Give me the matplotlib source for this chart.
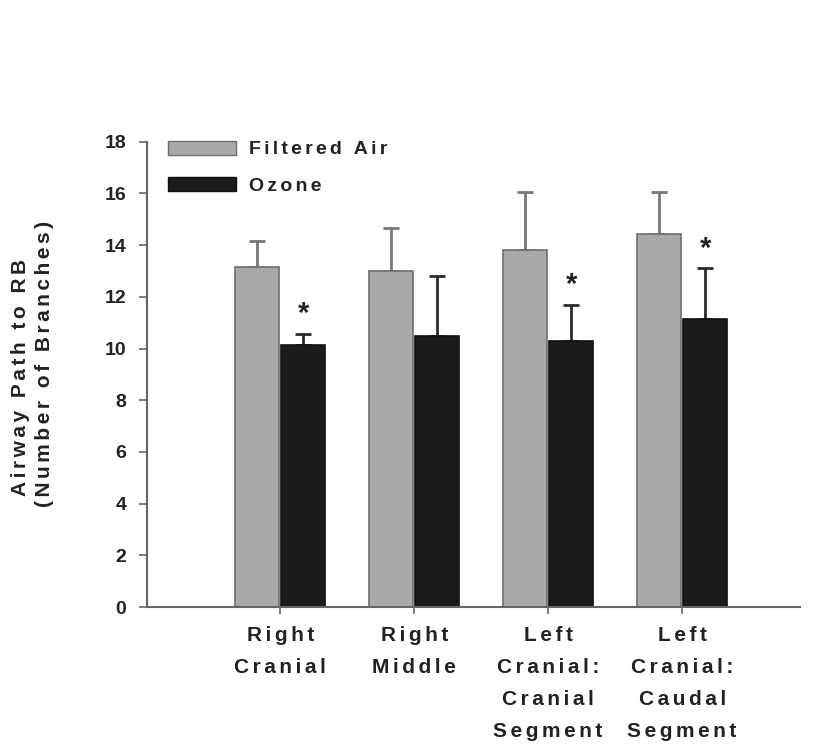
import matplotlib
matplotlib.use("Agg")
import matplotlib.pyplot as plt
import numpy as np
from matplotlib.patches import Patch

plt.rcParams['font.family'] = ['Liberation Sans', 'DejaVu Sans']

categories = ["Right\nCranial", "Right\nMiddle", "Left\nCranial:\nCranial\nSegment",
              "Left\nCranial:\nCaudal\nSegment"]
filtered_air = [13.15, 12.98, 13.8, 14.42]
filtered_air_err = [1.0, 1.68, 2.26, 1.62]
ozone = [10.15, 10.48, 10.28, 11.13]
ozone_err = [0.42, 2.33, 1.41, 1.97]
significant = [True, False, True, True]
y_title_lines = ["Airway Path to RB", "(Number of Branches)"]
series_names = ["Filtered Air", "Ozone"]

HS = "\u200a"  # hair space used to widen letter spacing


def tracked(s, n=2):
    gap = HS * n
    return "\n".join(gap.join(line) for line in s.split("\n"))


fig = plt.figure(figsize=(8.17, 7.45), dpi=100)
ax = fig.add_axes([147/817, 138/745, (800-147)/817, (607-141.7)/745])

x = np.arange(len(categories))
w = 0.33
off = 0.1725
gray = "#a9a9a9"
dark = "#1b1b1b"
ink = "#222222"

ax.bar(x - off, filtered_air, w, color=gray, edgecolor="#6e6e6e", linewidth=1.2, zorder=2)
ax.bar(x + off, ozone, w, color=dark, edgecolor="#111111", linewidth=1.2, zorder=2)
ax.errorbar(x - off, filtered_air, yerr=[np.zeros(len(x)), filtered_air_err], fmt="none",
            ecolor="#777777", elinewidth=2, capsize=6, capthick=2, zorder=1)
ax.errorbar(x + off, ozone, yerr=[np.zeros(len(x)), ozone_err], fmt="none",
            ecolor="#2a2a2a", elinewidth=2, capsize=6, capthick=2, zorder=1)

for xi, v, e, s in zip(x, ozone, ozone_err, significant):
    if s:
        ax.text(xi + off, v + e + 0.22, "*", ha="center", va="bottom",
                fontsize=21, fontweight="bold", color=ink)

ax.set_xlim(-0.995, 3.88)
ax.set_ylim(0, 18)
ax.set_yticks(np.arange(0, 19, 2))
ax.set_xticks(x)
ax.set_xticklabels([tracked(c) for c in categories], fontsize=15, fontweight="bold",
                   color=ink, linespacing=1.86)
for lab in ax.get_yticklabels():
    lab.set_fontsize(14)
    lab.set_fontweight("bold")
    lab.set_color(ink)

ax.spines["top"].set_visible(False)
ax.spines["right"].set_visible(False)
for sp in ("left", "bottom"):
    ax.spines[sp].set_color("#666666")
    ax.spines[sp].set_linewidth(1.5)
ax.tick_params(axis="y", direction="out", length=6, width=1.2, color="#666666", pad=9)
ax.tick_params(axis="x", direction="out", length=5, width=1.2, color="#666666", pad=9)

# two-line y-axis title
for xpix, ypix, line in zip((21, 45), (377, 364), y_title_lines):
    fig.text(xpix/817, 1 - ypix/745, tracked(line), rotation=90, ha="center",
             va="center", fontsize=15, fontweight="bold", color=ink)

handles = [Patch(facecolor=gray, edgecolor="#6e6e6e", label=tracked(series_names[0])),
           Patch(facecolor=dark, edgecolor="#111111", label=tracked(series_names[1]))]
leg = ax.legend(handles=handles, loc="upper left", bbox_to_anchor=(0.005, 1.04),
                frameon=False, handlelength=3.5, handleheight=0.75, handletextpad=0.7,
                labelspacing=0.95, prop={"size": 14, "weight": "bold"})
for t in leg.get_texts():
    t.set_color(ink)

fig.savefig("out.png", dpi=100, facecolor="white")
